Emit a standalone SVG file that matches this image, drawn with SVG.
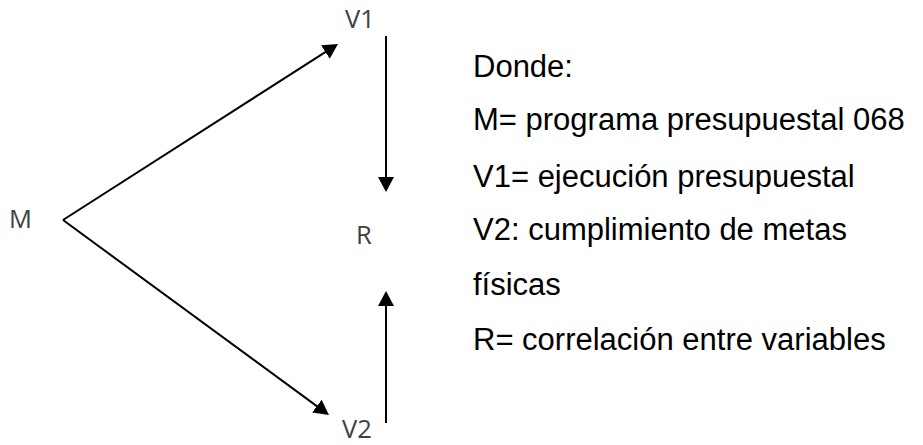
<svg xmlns="http://www.w3.org/2000/svg" width="923" height="445" viewBox="0 0 923 445">
<style>
.lbl{font-family:"Open Sans","Liberation Sans",sans-serif;font-size:25.5px;fill:#404040}
.leg{font-family:"Liberation Sans",Arial,sans-serif;font-size:31px;fill:#000}
.con{stroke:#000;stroke-width:2;fill:none;marker-end:url(#ah)}
</style>
<defs>
<marker id="ah" markerUnits="userSpaceOnUse" markerWidth="15" markerHeight="16" refX="5" refY="8" orient="auto">
<path d="M0,0 L15,8 L0,16 z" fill="#000"/>
</marker>
</defs>
<rect width="923" height="445" fill="#fff"/>
<g id="connectors">
<line class="con" x1="63" y1="220" x2="329.6" y2="49.4"/>
<line class="con" x1="63" y1="220" x2="320.9" y2="409.1"/>
<line class="con" x1="386" y1="36" x2="386" y2="182"/>
<line class="con" x1="386" y1="423" x2="386" y2="301"/>
</g>
<g id="node-M"><text class="lbl" x="9" y="228">M</text></g>
<g id="node-V1"><text class="lbl" x="345" y="28">V1</text></g>
<g id="node-R"><text class="lbl" x="356" y="244">R</text></g>
<g id="node-V2"><text class="lbl" x="342" y="438">V2</text></g>
<g id="legend">
<text class="leg" x="473" y="77">Donde:</text>
<text class="leg" x="473" y="130">M= programa presupuestal 068</text>
<text class="leg" x="473" y="187">V1= ejecución presupuestal</text>
<text class="leg" x="473" y="240">V2: cumplimiento de metas</text>
<text class="leg" x="473" y="295">físicas</text>
<text class="leg" x="473" y="350">R= correlación entre variables</text>
</g>
</svg>
